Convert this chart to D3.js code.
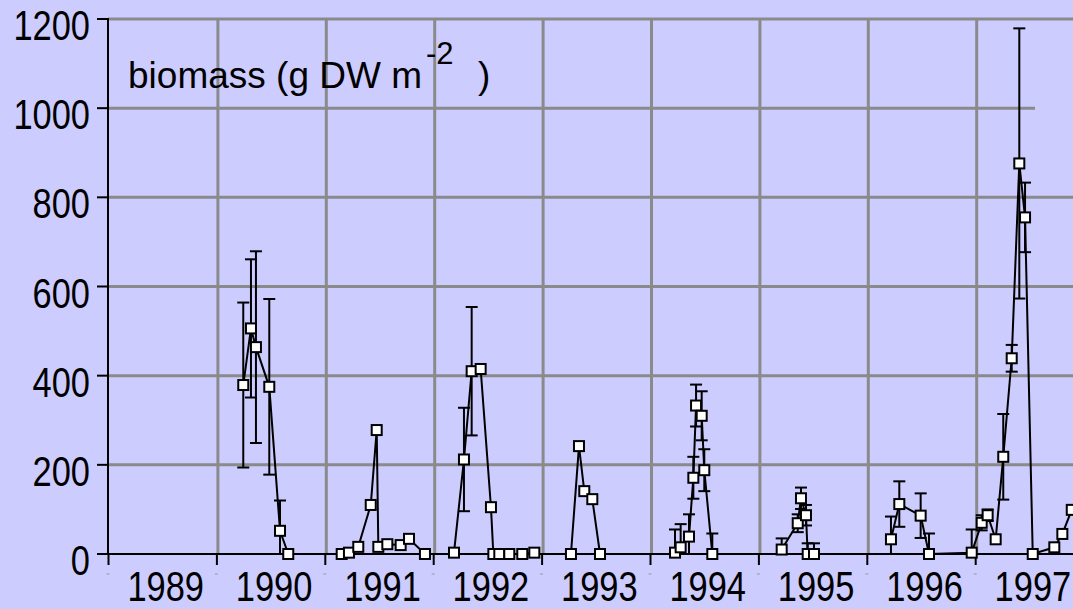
<!DOCTYPE html>
<html>
<head>
<meta charset="utf-8">
<script src="https://cdn.jsdelivr.net/npm/d3@7"></script>
<style>
  html, body { margin: 0; padding: 0; background: #ccccff; }
  svg { display: block; }
</style>
</head>
<body>
<div id="viz"></div>
<script>
(function() {

// Sampling dates as decimal years, biomass (g DW m-2) and +/- error (null = no bar).
let sampleYears = [
  1990.234, 1990.305, 1990.351, 1990.474, 1990.573, 1990.649,
  1991.142, 1991.209, 1991.295, 1991.410, 1991.465, 1991.480, 1991.563, 1991.686, 1991.763, 1991.910,
  1992.178, 1992.270, 1992.341, 1992.424, 1992.519, 1992.541, 1992.596, 1992.688, 1992.808, 1992.919,
  1993.257, 1993.331, 1993.380, 1993.454, 1993.525,
  1994.217, 1994.269, 1994.346, 1994.386, 1994.411, 1994.463, 1994.487, 1994.561,
  1995.201, 1995.349, 1995.379, 1995.425, 1995.441, 1995.499,
  1996.209, 1996.286, 1996.483, 1996.560, 1996.954,
  1997.046, 1997.101, 1997.175, 1997.245, 1997.323, 1997.393, 1997.446, 1997.517, 1997.716, 1997.790, 1997.877
];
let biomass = [
  379, 506, 464, 375, 52, 0,
  0, 3, 16, 110, 278, 16, 22, 20, 34, 0,
  3, 212, 410, 415, 105, 0, 0, 0, 0, 3,
  0, 242, 141, 123, 0,
  3, 15, 39, 171, 333, 310, 188, 0,
  10, 69, 125, 87, 0, 0,
  33, 112, 86, 0, 3,
  70, 87, 33, 218, 439, 876, 755, 0, 15, 45, 99
];
let errors = [
  185, 155, 215, 197, 68, null,
  null, null, null, null, null, null, null, null, null, null,
  null, 116, 144, null, null, null, null, null, null, null,
  null, null, null, null, null,
  52, 52, 50, 47, 47, 55, 47, 46,
  25, 20, 24, 23, 24, 24,
  51, 51, 50, 46, 52,
  17, 13, null, 96, 30, 303, 78, null, null, null, null
];
// The line starts again (not joined to the previous point) at these dates.
let seasonStarts = [1991.142, 1992.178, 1993.257, 1994.217, 1995.201, 1996.209];
let yearLabels = ["1989", "1990", "1991", "1992", "1993", "1994", "1995", "1996", "1997"];
let yTicks = [0, 200, 400, 600, 800, 1000, 1200];

let canvasWidth = 1073;
let canvasHeight = 609;
let axisX = 108;
let gridColor = "#8a8a8a";
let font = "'Liberation Sans', Arial, sans-serif";

let svg = d3.select("#viz").append("svg")
  .attr("width", canvasWidth)
  .attr("height", canvasHeight);

svg.append("rect")
  .attr("width", canvasWidth)
  .attr("height", canvasHeight)
  .attr("fill", "#ccccff");

let x = d3.scaleLinear()
  .domain([1989, 1998])
  .range([109.5, 109.5 + 9 * 108.4]);
let y = d3.scaleLinear()
  .domain([0, 1200])
  .range([554, 19]);

let data = sampleYears.map((t, i) => {
  return { t: t, v: biomass[i], e: errors[i] };
});

// split the series into seasons
let segments = [];
data.forEach((d) => {
  if (segments.length === 0 || seasonStarts.indexOf(d.t) >= 0) {
    segments.push([]);
  }
  segments[segments.length - 1].push(d);
});

// Grid
let grid = svg.append("g");
grid.selectAll("line.h")
  .data(yTicks.filter((d) => d > 0))
  .enter().append("line")
    .attr("x1", axisX)
    .attr("x2", (d) => d === 1000 ? 1035 : canvasWidth)
    .attr("y1", (d) => y(d))
    .attr("y2", (d) => y(d))
    .attr("stroke", gridColor)
    .attr("stroke-width", 3);
grid.selectAll("line.v")
  .data(d3.range(1990, 1998))
  .enter().append("line")
    .attr("x1", (d) => x(d))
    .attr("x2", (d) => x(d))
    .attr("y1", y(1200))
    .attr("y2", y(0))
    .attr("stroke", gridColor)
    .attr("stroke-width", 3);

// Y axis
let yAxis = svg.append("g");
yAxis.append("line")
  .attr("x1", axisX).attr("x2", axisX)
  .attr("y1", y(1200) - 1).attr("y2", y(0))
  .attr("stroke", "black").attr("stroke-width", 2);
yAxis.selectAll("line.tick")
  .data(yTicks)
  .enter().append("line")
    .attr("x1", axisX - 11).attr("x2", axisX)
    .attr("y1", (d) => y(d)).attr("y2", (d) => y(d))
    .attr("stroke", "black").attr("stroke-width", 2);
yAxis.selectAll("text")
  .data(yTicks)
  .enter().append("text")
    .attr("transform", (d) => "translate(90," + (y(d) + 21) + ") scale(0.82,1)")
    .attr("text-anchor", "end")
    .attr("font-family", font)
    .attr("font-size", 42)
    .attr("fill", "black")
    .text((d) => d);

// X axis
let xAxis = svg.append("g");
xAxis.append("line")
  .attr("x1", axisX).attr("x2", canvasWidth)
  .attr("y1", y(0)).attr("y2", y(0))
  .attr("stroke", "black").attr("stroke-width", 2);
xAxis.selectAll("line.tick")
  .data(d3.range(1989, 1998))
  .enter().append("line")
    .attr("x1", (d) => x(d) - 1).attr("x2", (d) => x(d) - 1)
    .attr("y1", y(0)).attr("y2", y(0) + 11)
    .attr("stroke", "black").attr("stroke-width", 2);
xAxis.selectAll("line.dash")
  .data(d3.range(1989, 1998))
  .enter().append("line")
    .attr("x1", (d) => x(d) - 3).attr("x2", (d) => x(d))
    .attr("y1", 574).attr("y2", 574)
    .attr("stroke", "#999").attr("stroke-width", 1);
xAxis.selectAll("text")
  .data(yearLabels)
  .enter().append("text")
    .attr("transform", (d) => "translate(" + (x(+d + 0.5) + 2) + ",601) scale(0.82,1)")
    .attr("text-anchor", "middle")
    .attr("font-family", font)
    .attr("font-size", 42)
    .attr("fill", "black")
    .text((d) => d);

// Error bars
let bars = svg.append("g").attr("stroke", "black").attr("stroke-width", 2);
let withErr = data.filter((d) => d.e !== null);
bars.selectAll("line.stem")
  .data(withErr)
  .enter().append("line")
    .attr("x1", (d) => x(d.t)).attr("x2", (d) => x(d.t))
    .attr("y1", (d) => y(d.v + d.e))
    .attr("y2", (d) => y(Math.max(0, d.v - d.e)));
bars.selectAll("line.top")
  .data(withErr)
  .enter().append("line")
    .attr("x1", (d) => x(d.t) - 6).attr("x2", (d) => x(d.t) + 6)
    .attr("y1", (d) => y(d.v + d.e)).attr("y2", (d) => y(d.v + d.e));
bars.selectAll("line.bottom")
  .data(withErr.filter((d) => d.v - d.e > 0))
  .enter().append("line")
    .attr("x1", (d) => x(d.t) - 6).attr("x2", (d) => x(d.t) + 6)
    .attr("y1", (d) => y(d.v - d.e)).attr("y2", (d) => y(d.v - d.e));

// Series line, one path per season
let lineGen = d3.line().x((d) => x(d.t)).y((d) => y(d.v));
svg.append("g").selectAll("path")
  .data(segments)
  .enter().append("path")
    .attr("d", lineGen)
    .attr("fill", "none")
    .attr("stroke", "black")
    .attr("stroke-width", 2);

// Markers
svg.append("g").selectAll("rect")
  .data(data)
  .enter().append("rect")
    .attr("x", (d) => x(d.t) - 5)
    .attr("y", (d) => y(d.v) - 5)
    .attr("width", 10)
    .attr("height", 10)
    .attr("fill", "white")
    .attr("stroke", "black")
    .attr("stroke-width", 2);

// Title inside the plot
let title = svg.append("text")
  .attr("x", 128)
  .attr("y", 88)
  .attr("font-family", font)
  .attr("font-size", 37)
  .attr("fill", "black");
title.append("tspan").text("biomass (g DW m");
title.append("tspan").attr("dx", 4).attr("dy", -24).attr("font-size", 31).text("-2");
title.append("tspan").attr("x", 478).attr("dy", 24).text(")");

})();
</script>
</body>
</html>
